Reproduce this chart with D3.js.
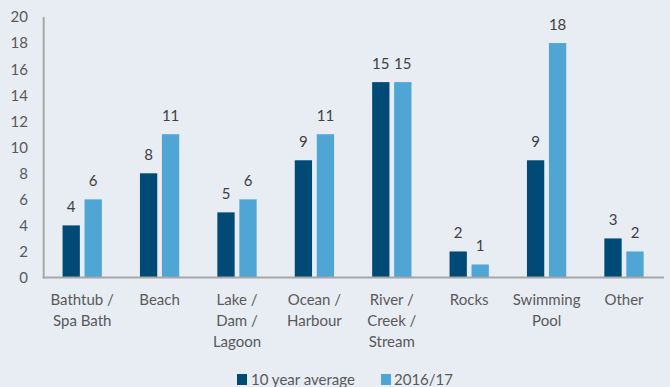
<!DOCTYPE html>
<html><head><meta charset="utf-8">
<script src="https://cdn.jsdelivr.net/npm/d3@7"></script>
<style>
html,body{margin:0;padding:0;background:#e8edf4;}
svg{display:block;font-family:Lato,"Open Sans",sans-serif;}
</style></head>
<body><svg id="c" width="670" height="387"></svg>
<script>
const categories = [["Bathtub /","Spa Bath"],["Beach"],["Lake /","Dam /","Lagoon"],["Ocean /","Harbour"],["River /","Creek /","Stream"],["Rocks"],["Swimming","Pool"],["Other"]];
const tenYearAvg = [4, 8, 5, 9, 15, 2, 9, 3];
const season2016 = [6, 11, 6, 11, 15, 1, 18, 2];
const seriesNames = ["10 year average", "2016/17"];
const colors = ["#004a75", "#4fa6d5"];
const yTicks = [0,2,4,6,8,10,12,14,16,18,20];

const svg = d3.select("#c");
const W = 670, H = 387;
const x = d3.scaleBand().domain(d3.range(categories.length)).range([43.5, 662.7]);
const y = d3.scaleLinear().domain([0,20]).range([277.5, 17]);
const barW = 17.3, gap = 4.7;
const textColor = "#595959";
const fs = 15;

// y tick labels
svg.append("g").selectAll("text").data(yTicks).join("text")
  .attr("x", 28).attr("y", d => y(d)).attr("dy","0.36em")
  .attr("text-anchor","end").attr("font-size",fs).attr("fill",textColor).text(d=>d);

const series = [tenYearAvg, season2016];
series.forEach((vals, s) => {
  const bx = i => x(i) + x.bandwidth()/2 - barW - gap/2 + s*(barW+gap);
  const g = svg.append("g");
  g.selectAll("rect").data(vals).join("rect")
    .attr("x", (d,i) => bx(i))
    .attr("y", d => y(d)).attr("width", barW).attr("height", d => y(0) - y(d))
    .attr("fill", colors[s]);
  g.selectAll("text").data(vals).join("text")
    .attr("x", (d,i) => bx(i) + barW/2)
    .attr("y", d => y(d) - 13).attr("text-anchor","middle")
    .attr("font-size",fs).attr("fill","#404040").text(d=>d);
});

// axes lines
svg.append("line").attr("x1", 43.7).attr("x2", 43.7).attr("y1", 17).attr("y2", y(0)+1)
  .attr("stroke","#a6a6a6").attr("stroke-width",2);
svg.append("line").attr("x1", 42.7).attr("x2", 664).attr("y1", y(0)).attr("y2", y(0))
  .attr("stroke","#a6a6a6").attr("stroke-width",2);

// category labels
const cl = svg.append("g").selectAll("text").data(categories).join("text")
  .attr("text-anchor","middle").attr("font-size",fs).attr("fill",textColor)
  .attr("transform",(d,i)=>`translate(${x(i)+x.bandwidth()/2},305)`);
cl.selectAll("tspan").data(d=>d).join("tspan")
  .attr("x",0).attr("y",(d,j)=>j*21).text(d=>d);

// legend
const leg = [{x:237, tx:251},{x:381, tx:394}];
seriesNames.forEach((n,s)=>{
  svg.append("rect").attr("x",leg[s].x).attr("y",374).attr("width",10).attr("height",11).attr("fill",colors[s]);
  svg.append("text").attr("x",leg[s].tx).attr("y",385).attr("font-size",fs).attr("fill",textColor).text(n);
});
</script></body></html>
